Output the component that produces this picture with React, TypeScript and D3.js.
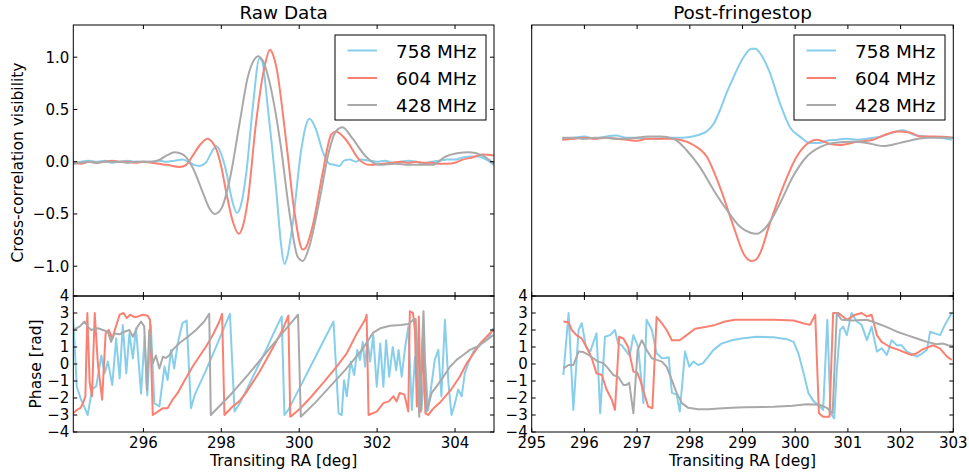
import React from 'react';
import * as d3 from 'd3';

type P = [number, number];

const SERIES_LABELS = ['758 MHz', '604 MHz', '428 MHz'];
const SERIES_COLORS = ['#87CEEB', '#FA8072', '#A9A9A9'];

const TITLES = ['Raw Data', 'Post-fringestop'];
const X_LABEL = 'Transiting RA [deg]';
const Y_LABEL_TOP = 'Cross-correlation visibility';
const Y_LABEL_BOTTOM = 'Phase [rad]';

const LEFT_X_TICKS = [296, 298, 300, 302, 304];
const RIGHT_X_TICKS = [295, 296, 297, 298, 299, 300, 301, 302, 303];
const VIS_TICKS = [-1, -0.5, 0, 0.5, 1];
const PHASE_TICKS = [-4, -3, -2, -1, 0, 1, 2, 3, 4];

// ---- Raw visibility ----
const rawVis758: P[] = [
  [294.2, -0.02], [294.4, 0.0], [294.6, 0.01], [294.8, 0.0], [295.0, 0.01], [295.2, -0.01], [295.4, 0.0],
  [295.6, 0.01], [295.8, 0.0], [296.0, 0.0], [296.2, 0.0], [296.4, 0.01], [296.6, 0.0], [296.8, 0.01],
  [297.0, 0.02], [297.15, 0.0], [297.3, -0.03], [297.44, -0.04], [297.6, -0.01], [297.75, 0.09],
  [297.87, 0.15], [297.98, 0.09], [298.13, -0.1], [298.27, -0.36], [298.4, -0.49], [298.5, -0.42],
  [298.64, -0.11], [298.81, 0.53], [298.98, 0.99], [299.05, 0.96], [299.19, 0.53], [299.41, -0.27],
  [299.53, -0.78], [299.62, -0.98], [299.7, -0.9], [299.83, -0.6], [300.05, 0.11], [300.16, 0.33],
  [300.26, 0.41], [300.43, 0.31], [300.6, 0.1], [300.77, -0.02], [300.9, -0.03], [301.03, -0.04],
  [301.15, 0.01], [301.3, 0.02], [301.45, 0.0], [301.6, 0.02], [301.8, 0.01], [302.0, 0.0], [302.2, 0.01],
  [302.4, -0.01], [302.6, 0.0], [302.8, 0.01], [303.0, 0.0], [303.2, -0.02], [303.4, 0.0], [303.6, 0.01],
  [303.8, 0.02], [304.0, 0.02], [304.2, 0.04], [304.4, 0.05], [304.6, 0.05], [304.8, 0.02], [305.0, -0.03],
];
const rawVis604: P[] = [
  [294.2, -0.01], [294.4, -0.02], [294.6, 0.0], [294.8, -0.01], [295.0, 0.0], [295.2, 0.01], [295.4, 0.0],
  [295.6, 0.0], [295.8, -0.01], [296.0, 0.0], [296.2, -0.01], [296.4, -0.02], [296.6, -0.03], [296.93, -0.05],
  [297.1, -0.03], [297.27, 0.06], [297.45, 0.16], [297.65, 0.22], [297.78, 0.18], [297.87, 0.12],
  [298.0, -0.05], [298.13, -0.3], [298.3, -0.58], [298.45, -0.69], [298.55, -0.62], [298.68, -0.37],
  [298.89, 0.37], [299.11, 0.91], [299.25, 1.07], [299.32, 1.03], [299.41, 0.91], [299.66, 0.21],
  [299.88, -0.49], [300.09, -0.84], [300.15, -0.83], [300.34, -0.62], [300.6, -0.11], [300.82, 0.26],
  [300.94, 0.29], [301.2, 0.21], [301.54, 0.02], [301.8, -0.03], [302.14, -0.02], [302.4, -0.01],
  [302.6, 0.0], [302.8, -0.01], [303.0, 0.0], [303.2, -0.01], [303.4, -0.01], [303.6, -0.02], [303.8, -0.02],
  [304.0, -0.01], [304.2, 0.02], [304.44, 0.04], [304.7, 0.07], [305.0, 0.06],
];
const rawVis428: P[] = [
  [294.2, -0.02], [294.4, -0.01], [294.6, 0.0], [294.8, -0.01], [295.0, 0.0], [295.2, 0.0], [295.4, 0.0],
  [295.6, -0.01], [295.8, 0.0], [296.0, 0.0], [296.2, 0.0], [296.42, 0.02], [296.6, 0.06], [296.8, 0.09],
  [297.01, 0.07], [297.27, -0.06], [297.53, -0.3], [297.7, -0.45], [297.83, -0.5], [298.0, -0.45],
  [298.21, -0.18], [298.47, 0.37], [298.68, 0.81], [298.85, 0.98], [298.94, 1.01], [299.06, 0.97],
  [299.28, 0.69], [299.53, 0.14], [299.75, -0.49], [299.96, -0.91], [300.09, -0.95], [300.26, -0.81],
  [300.52, -0.37], [300.77, 0.11], [300.94, 0.29], [301.11, 0.33], [301.37, 0.22], [301.71, 0.05],
  [302.05, -0.03], [302.48, -0.02], [302.8, -0.03], [303.1, -0.03], [303.42, -0.03], [303.76, 0.05],
  [304.05, 0.08], [304.36, 0.09], [304.7, 0.06], [305.0, -0.02],
];

// ---- Post-fringestop visibility ----
const postVis758: P[] = [
  [295.58, 0.22], [295.8, 0.23], [296.0, 0.24], [296.2, 0.22], [296.4, 0.24], [296.6, 0.25], [296.8, 0.23],
  [297.0, 0.23], [297.2, 0.22], [297.4, 0.22], [297.6, 0.23], [297.88, 0.23], [298.13, 0.25], [298.32, 0.29],
  [298.45, 0.36], [298.57, 0.49], [298.7, 0.66], [298.83, 0.81], [299.02, 1.0], [299.17, 1.08],
  [299.25, 1.08], [299.33, 1.04], [299.52, 0.85], [299.71, 0.56], [299.9, 0.33], [300.09, 0.24],
  [300.28, 0.18], [300.45, 0.18], [300.6, 0.2], [300.8, 0.21], [300.98, 0.22], [301.2, 0.21],
  [301.36, 0.22], [301.61, 0.24], [301.86, 0.28], [302.05, 0.3], [302.24, 0.26], [302.5, 0.24],
  [302.75, 0.23], [302.97, 0.21],
];
const postVis604: P[] = [
  [295.58, 0.21], [295.8, 0.22], [296.0, 0.23], [296.2, 0.22], [296.4, 0.23], [296.6, 0.22], [296.8, 0.21],
  [297.0, 0.2], [297.2, 0.22], [297.4, 0.22], [297.6, 0.22], [297.81, 0.21], [298.07, 0.16], [298.32, 0.05],
  [298.57, -0.24], [298.83, -0.62], [299.02, -0.88], [299.17, -0.95], [299.25, -0.94], [299.33, -0.88],
  [299.52, -0.59], [299.77, -0.24], [300.03, 0.05], [300.28, 0.19], [300.41, 0.21], [300.66, 0.17],
  [300.85, 0.16], [301.17, 0.19], [301.48, 0.21], [301.67, 0.25], [301.93, 0.29], [302.18, 0.28],
  [302.37, 0.24], [302.62, 0.24], [303.0, 0.23],
];
const postVis428: P[] = [
  [295.58, 0.23], [295.8, 0.23], [296.0, 0.22], [296.2, 0.23], [296.4, 0.23], [296.6, 0.22], [296.8, 0.22],
  [297.0, 0.23], [297.2, 0.24], [297.44, 0.24], [297.69, 0.22], [297.94, 0.11], [298.19, -0.05],
  [298.45, -0.27], [298.7, -0.46], [298.95, -0.62], [299.15, -0.68], [299.27, -0.69], [299.46, -0.62],
  [299.71, -0.4], [299.96, -0.14], [300.22, 0.05], [300.47, 0.14], [300.72, 0.18], [301.1, 0.19],
  [301.36, 0.18], [301.67, 0.15], [301.99, 0.18], [302.24, 0.21], [302.5, 0.23], [303.0, 0.23],
];

// ---- Raw phase ----
const rawPhase758: P[] = [
  [294.19, 3.0], [294.29, -1.34], [294.4, -2.1], [294.57, -3.0], [294.68, -1.5], [294.79, -1.3],
  [294.92, 0.5], [295.0, -0.55], [295.09, 0.14], [295.2, -1.24], [295.3, 1.5], [295.39, -0.85],
  [295.47, 2.3], [295.56, -0.55], [295.64, 1.8], [295.73, 0.33], [295.81, 2.1], [295.88, 0.04],
  [295.94, -1.74], [296.03, 1.6], [296.1, -1.85], [296.19, 2.3], [296.28, -2.3], [296.41, -2.5],
  [296.54, -0.15], [296.62, -0.95], [296.71, 0.83], [296.79, -0.26], [296.88, 1.2], [297.0, 2.4],
  [297.11, 2.55], [297.22, -2.6], [297.32, -1.8], [297.6, -0.4], [297.9, 1.2], [298.1, 2.3],
  [298.22, 2.95], [298.34, -2.8], [298.5, -2.2], [298.8, -0.8], [299.1, 0.6], [299.35, 1.85],
  [299.55, 2.8], [299.62, -3.0], [299.72, -2.7], [300.0, -1.45], [300.3, -0.1], [300.6, 1.25],
  [300.88, 2.5], [301.01, -2.9], [301.09, -3.0], [301.15, -0.95], [301.22, -1.9], [301.32, 0.14],
  [301.41, -0.65], [301.49, 0.83], [301.56, 0.24], [301.63, 1.3], [301.69, -0.16], [301.75, 1.4],
  [301.82, 0.14], [301.9, 1.7], [301.99, -1.34], [302.08, 1.2], [302.16, -1.34], [302.23, 1.4],
  [302.31, -0.75], [302.4, 1.0], [302.49, -0.36], [302.55, 0.83], [302.63, -0.75], [302.72, 1.0],
  [302.8, 2.2], [302.89, -2.7], [302.97, 0.43], [303.06, -1.7], [303.14, -2.7], [303.23, 0.04],
  [303.31, -2.7], [303.4, -1.14], [303.48, 0.24], [303.57, 0.83], [303.65, -1.9], [303.74, 2.6],
  [303.83, -1.14], [303.91, -3.0], [304.0, -2.3], [304.08, -1.5], [304.17, -1.9], [304.25, -0.55],
  [304.34, 0.04], [304.47, 0.73], [304.6, 1.0], [304.72, 1.3], [304.85, 1.5], [304.98, 2.1],
];
const rawPhase604: P[] = [
  [294.19, -2.9], [294.29, -2.7], [294.38, -2.6], [294.45, -2.3], [294.51, -1.9], [294.56, 3.0],
  [294.62, -1.1], [294.68, -1.9], [294.75, 3.0], [294.83, 0.04], [294.94, -2.1], [295.03, 1.8],
  [295.11, 2.0], [295.2, 1.5], [295.28, 2.1], [295.39, 2.9], [295.49, 3.0], [295.57, 2.7], [295.66, 2.9],
  [295.77, 2.76], [295.87, 2.8], [295.98, 2.9], [296.11, 2.84], [296.17, 2.6], [296.24, -3.0],
  [296.37, -2.8], [296.5, -2.6], [296.62, -2.6], [296.75, -2.1], [296.88, -1.7], [297.05, -1.0],
  [297.26, -0.16], [297.43, 0.43], [297.6, 1.0], [297.78, 1.7], [297.95, 2.5], [298.02, 2.95],
  [298.08, -3.0], [298.29, -2.5], [298.46, -2.2], [298.63, -1.7], [298.97, -0.5], [299.31, 0.9],
  [299.57, 2.0], [299.72, 2.85], [299.77, -3.1], [299.81, -3.05], [300.03, -2.6], [300.28, -2.0],
  [300.62, -1.1], [300.96, -0.16], [301.22, 0.63], [301.48, 1.8], [301.69, 2.6], [301.73, 2.9],
  [301.78, -3.0], [301.99, -2.8], [302.16, -2.3], [302.3, -2.2], [302.42, -1.9], [302.5, -2.2],
  [302.58, -1.7], [302.7, -1.8], [302.8, -2.8], [302.84, 3.1], [302.92, 3.0], [302.97, 2.0],
  [303.02, -2.5], [303.07, 2.8], [303.12, -2.8], [303.17, 1.5], [303.24, -2.9], [303.31, -3.0],
  [303.45, -2.6], [303.6, -2.3], [303.75, -1.9], [303.9, -1.5], [304.12, -0.75], [304.3, 0.04],
  [304.47, 0.6], [304.64, 1.2], [304.81, 1.6], [304.98, 2.0],
];
const rawPhase428: P[] = [
  [294.19, 2.0], [294.36, 2.2], [294.49, 2.5], [294.57, 2.2], [294.66, 2.0], [294.83, 2.1], [294.96, 2.0],
  [295.09, 1.9], [295.17, 1.3], [295.26, 1.8], [295.39, 1.75], [295.51, 1.9], [295.64, 2.0], [295.73, 1.6],
  [295.85, 2.2], [295.94, 2.5], [296.02, 2.2], [296.09, -1.55], [296.15, 2.0], [296.24, 0.04],
  [296.32, 0.5], [296.41, -0.26], [296.5, 0.43], [296.58, 0.35], [296.67, 0.53], [296.75, 0.83],
  [296.92, 1.22], [297.14, 1.6], [297.35, 2.0], [297.56, 2.5], [297.69, 2.96], [297.73, -3.0],
  [298.2, -1.9], [298.7, -0.6], [299.2, 0.8], [299.6, 1.9], [299.97, 2.9], [300.04, -3.1],
  [300.4, -2.3], [300.8, -1.3], [301.2, -0.3], [301.6, 0.8], [301.9, 1.85], [302.08, 2.1],
  [302.33, 2.25], [302.6, 2.3], [302.8, 2.35], [302.93, 2.6], [302.99, 2.65], [303.08, -3.1],
  [303.19, 3.1], [303.27, -2.8], [303.4, -1.7], [303.53, -1.3], [303.7, -0.75], [303.87, -0.16],
  [304.04, 0.24], [304.21, 0.53], [304.38, 0.83], [304.55, 1.0], [304.72, 1.25], [304.98, 1.7],
];

// ---- Post-fringestop phase ----
const postPhase758: P[] = [
  [295.6, -0.65], [295.7, 3.0], [295.79, -2.7], [295.89, 2.0], [295.95, 2.4], [296.03, 1.0],
  [296.11, 0.73], [296.23, 1.8], [296.3, -2.9], [296.39, 1.6], [296.49, 1.7], [296.58, 2.0],
  [296.64, 1.2], [296.71, 1.1], [296.8, 0.73], [296.86, 0.5], [296.93, 1.7], [297.02, 1.0],
  [297.12, -2.3], [297.18, 2.6], [297.28, 2.0], [297.37, 0.63], [297.47, 0.34], [297.53, 0.35],
  [297.6, 0.4], [297.66, -1.7], [297.75, -1.8], [297.81, -2.8], [297.91, 0.73], [297.99, -0.16],
  [298.07, 0.14], [298.16, -0.06], [298.25, 0.05], [298.35, 0.43], [298.45, 0.83], [298.6, 1.2],
  [298.8, 1.4], [298.98, 1.5], [299.27, 1.6], [299.59, 1.58], [299.84, 1.46], [299.97, 1.3],
  [300.06, 0.63], [300.16, -0.55], [300.25, -1.7], [300.35, -2.2], [300.47, -2.5], [300.53, -2.7],
  [300.61, 2.6], [300.67, -2.9], [300.74, -3.2], [300.79, -0.35], [300.85, 2.0], [300.91, 2.2],
  [300.98, 1.7], [301.07, 3.0], [301.17, 2.5], [301.26, 2.3], [301.36, 1.4], [301.45, 2.2],
  [301.55, 0.73], [301.64, 0.93], [301.74, 0.53], [301.83, 1.4], [301.93, 1.1], [302.02, 1.1],
  [302.12, 0.73], [302.21, 0.6], [302.31, 0.43], [302.4, 0.6], [302.5, 0.83], [302.56, 1.9],
  [302.65, 1.8], [302.75, 1.7], [302.84, 2.3], [302.97, 3.0],
];
const postPhase604: P[] = [
  [295.6, 2.5], [295.7, 2.45], [295.76, 2.0], [295.85, 1.7], [295.95, 1.5], [296.04, 1.0], [296.14, 0.34],
  [296.23, -0.55], [296.33, -0.65], [296.42, -1.5], [296.52, -2.1], [296.58, -2.7], [296.66, 1.6],
  [296.74, 1.5], [296.83, 1.0], [296.93, -0.45], [297.0, -0.5], [297.06, -0.95], [297.15, -1.9],
  [297.21, -2.5], [297.29, -2.6], [297.37, 2.76], [297.47, 2.4], [297.56, 2.0], [297.66, 1.4],
  [297.81, 1.4], [297.94, 1.7], [298.1, 2.07], [298.29, 2.17], [298.48, 2.3], [298.67, 2.5],
  [298.86, 2.6], [299.05, 2.6], [299.59, 2.6], [299.97, 2.56], [300.15, 2.4], [300.28, 2.3],
  [300.38, 2.9], [300.45, -2.9], [300.53, -3.1], [300.65, -3.1], [300.72, 3.0], [300.82, 3.0],
  [300.98, 2.6], [301.14, 2.9], [301.26, 3.0], [301.36, 2.8], [301.45, 2.9], [301.55, 1.7],
  [301.64, 1.3], [301.8, 1.0], [301.96, 0.83], [302.12, 0.63], [302.21, 0.53], [302.31, 0.63],
  [302.4, 0.83], [302.53, 1.0], [302.62, 1.1], [302.75, 0.9], [302.88, 0.43], [302.97, 0.24],
];
const postPhase428: P[] = [
  [295.6, -0.26], [295.7, -0.06], [295.79, -0.06], [295.89, 0.73], [295.98, 0.7], [296.08, 0.53],
  [296.17, 0.34], [296.26, 0.14], [296.36, 0.05], [296.45, -0.26], [296.55, -0.65], [296.64, -0.75],
  [296.74, -1.24], [296.8, -1.24], [296.85, -1.1], [296.93, -2.9], [297.01, 0.83], [297.09, 1.4],
  [297.18, 0.83], [297.28, 0.34], [297.37, 0.24], [297.47, 0.14], [297.56, -0.16], [297.66, -0.95],
  [297.75, -1.7], [297.85, -2.3], [297.97, -2.58], [298.16, -2.66], [298.35, -2.66], [298.55, -2.62],
  [298.8, -2.58], [299.05, -2.55], [299.59, -2.52], [299.95, -2.45], [300.22, -2.37], [300.47, -2.4],
  [300.61, -2.6], [300.71, -2.9], [300.79, 3.0], [300.88, 2.6], [301.1, 2.56], [301.36, 2.6],
  [301.55, 2.4], [301.74, 2.17], [301.93, 1.9], [302.12, 1.7], [302.31, 1.5], [302.5, 1.3],
  [302.68, 1.16], [302.81, 1.2], [302.9, 1.1], [303.0, 1.06],
];

const RAW_VIS = [rawVis758, rawVis604, rawVis428];
const POST_VIS = [postVis758, postVis604, postVis428];
const RAW_PHASE = [rawPhase758, rawPhase604, rawPhase428];
const POST_PHASE = [postPhase758, postPhase604, postPhase428];

const W = 969;
const H = 472;
const FONT = '"DejaVu Sans", sans-serif';
const TICK_FS = 15;
const LABEL_FS = 15.5;
const TITLE_FS = 18.4;
const TICK_LEN = 4;

const TOP_Y: [number, number] = [25, 296];
const BOT_Y: [number, number] = [296, 432];
const VIS_DOMAIN: [number, number] = [-1.285, 1.308];
const PHASE_DOMAIN: [number, number] = [-4, 4];

const fmtNum = (f: (n: number) => string) => (v: number) => f(v).replace('-', '\u2212');

interface PanelProps {
  id: string;
  x0: number; x1: number; y0: number; y1: number;
  xDomain: [number, number]; yDomain: [number, number];
  xTicks: number[]; yTicks: number[];
  showXLabels: boolean; showYTicks: boolean; showYLabels: boolean;
  yFmt: (v: number) => string;
  data: P[][];
  smooth: boolean;
}

function Panel(p: PanelProps) {
  const xs = d3.scaleLinear().domain(p.xDomain).range([p.x0, p.x1]);
  const ys = d3.scaleLinear().domain(p.yDomain).range([p.y1, p.y0]);
  const line = d3.line<P>().x(d => xs(d[0])).y(d => ys(d[1]))
    .curve(p.smooth ? d3.curveMonotoneX : d3.curveLinear);
  return (
    <g>
      <defs>
        <clipPath id={p.id}>
          <rect x={p.x0} y={p.y0} width={p.x1 - p.x0} height={p.y1 - p.y0} />
        </clipPath>
      </defs>
      <g clipPath={`url(#${p.id})`}>
        {p.data.map((s, i) => (
          <path key={i} d={line(s) || ''} fill="none" stroke={SERIES_COLORS[i]} strokeWidth={2}
            strokeLinejoin="round" />
        ))}
      </g>
      <rect x={p.x0} y={p.y0} width={p.x1 - p.x0} height={p.y1 - p.y0} fill="none" stroke="#000" strokeWidth={1} />
      {p.xTicks.map(t => (
        <g key={'x' + t}>
          <line x1={xs(t)} x2={xs(t)} y1={p.y1} y2={p.y1 - TICK_LEN} stroke="#000" />
          <line x1={xs(t)} x2={xs(t)} y1={p.y0} y2={p.y0 + TICK_LEN} stroke="#000" />
          {p.showXLabels && (
            <text x={xs(t)} y={p.y1 + 5} dy="0.71em" textAnchor="middle" fontSize={TICK_FS} fontFamily={FONT}
              fill="#000">{t}</text>
          )}
        </g>
      ))}
      {p.showYTicks && p.yTicks.map(t => (
        <g key={'y' + t}>
          <line x1={p.x0} x2={p.x0 + TICK_LEN} y1={ys(t)} y2={ys(t)} stroke="#000" />
          <line x1={p.x1} x2={p.x1 - TICK_LEN} y1={ys(t)} y2={ys(t)} stroke="#000" />
          {p.showYLabels && (
            <text x={p.x0 - 4} y={ys(t)} dy="0.36em" textAnchor="end" fontSize={TICK_FS} fontFamily={FONT}
              fill="#000">{p.yFmt(t)}</text>
          )}
        </g>
      ))}
    </g>
  );
}

function Legend({ x, y }: { x: number; y: number }) {
  const rowY = [15.5, 43, 70];
  return (
    <g>
      <rect x={x} y={y} width={151} height={85} fill="#fff" stroke="#000" strokeWidth={1} />
      {SERIES_LABELS.map((lab, i) => (
        <g key={lab}>
          <line x1={x + 12.5} x2={x + 42} y1={y + rowY[i]} y2={y + rowY[i]} stroke={SERIES_COLORS[i]} strokeWidth={2} />
          <text x={x + 61} y={y + rowY[i] + 7} fontSize={TITLE_FS} fontFamily={FONT} fill="#000">{lab}</text>
        </g>
      ))}
    </g>
  );
}

export default function App() {
  const visFmt = fmtNum(d3.format('.1f'));
  const phFmt = fmtNum(d3.format('d'));
  const L = { x0: 73.3, x1: 494, dom: [294.2, 305] as [number, number] };
  const R = { x0: 531.7, x1: 953.3, dom: [295, 303] as [number, number] };
  return (
    <svg width={W} height={H} style={{ position: 'absolute', left: 0, top: 0, background: '#fff' }}>
      <rect x={0} y={0} width={W} height={H} fill="#fff" />
      <Panel id="c1" x0={L.x0} x1={L.x1} y0={TOP_Y[0]} y1={TOP_Y[1]} xDomain={L.dom} yDomain={VIS_DOMAIN}
        xTicks={LEFT_X_TICKS} yTicks={VIS_TICKS} showXLabels={false} showYTicks showYLabels yFmt={visFmt}
        data={RAW_VIS} smooth />
      <Panel id="c2" x0={L.x0} x1={L.x1} y0={BOT_Y[0]} y1={BOT_Y[1]} xDomain={L.dom} yDomain={PHASE_DOMAIN}
        xTicks={LEFT_X_TICKS} yTicks={PHASE_TICKS} showXLabels showYTicks showYLabels yFmt={phFmt}
        data={RAW_PHASE} smooth={false} />
      <Panel id="c3" x0={R.x0} x1={R.x1} y0={TOP_Y[0]} y1={TOP_Y[1]} xDomain={R.dom} yDomain={VIS_DOMAIN}
        xTicks={RIGHT_X_TICKS} yTicks={VIS_TICKS} showXLabels={false} showYTicks={false} showYLabels={false}
        yFmt={visFmt} data={POST_VIS} smooth />
      <Panel id="c4" x0={R.x0} x1={R.x1} y0={BOT_Y[0]} y1={BOT_Y[1]} xDomain={R.dom} yDomain={PHASE_DOMAIN}
        xTicks={RIGHT_X_TICKS} yTicks={PHASE_TICKS} showXLabels showYTicks showYLabels yFmt={phFmt}
        data={POST_PHASE} smooth={false} />
      <Legend x={335} y={35} />
      <Legend x={794} y={35} />
      <text x={(L.x0 + L.x1) / 2} y={19} textAnchor="middle" fontSize={TITLE_FS} fontFamily={FONT}>{TITLES[0]}</text>
      <text x={(R.x0 + R.x1) / 2} y={19} textAnchor="middle" fontSize={TITLE_FS} fontFamily={FONT}>{TITLES[1]}</text>
      <text x={(L.x0 + L.x1) / 2} y={465.5} textAnchor="middle" fontSize={LABEL_FS} fontFamily={FONT}>{X_LABEL}</text>
      <text x={(R.x0 + R.x1) / 2} y={465.5} textAnchor="middle" fontSize={LABEL_FS} fontFamily={FONT}>{X_LABEL}</text>
      <text transform={`translate(23,${(TOP_Y[0] + TOP_Y[1]) / 2 + 2}) rotate(-90)`} textAnchor="middle"
        fontSize={LABEL_FS} fontFamily={FONT}>{Y_LABEL_TOP}</text>
      <text transform={`translate(41,${(BOT_Y[0] + BOT_Y[1]) / 2}) rotate(-90)`} textAnchor="middle"
        fontSize={LABEL_FS} fontFamily={FONT}>{Y_LABEL_BOTTOM}</text>
    </svg>
  );
}
